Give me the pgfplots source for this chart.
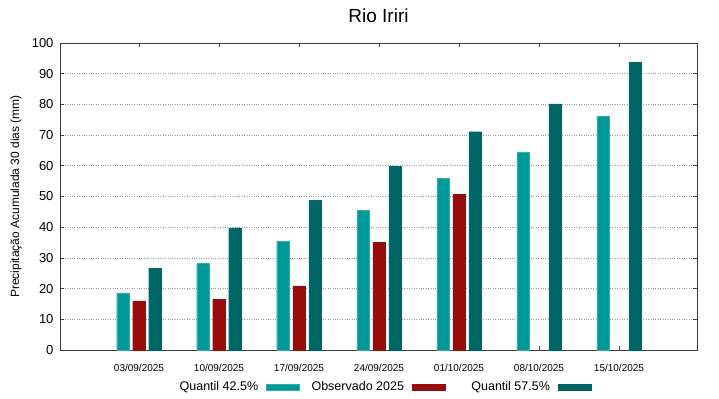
\documentclass[border=0pt]{standalone}
\usepackage{pgfplots}
\pgfplotsset{compat=1.18}
\usepackage{fontspec}
\setmainfont{Liberation Sans}
\definecolor{qlo}{RGB}{0,153,153}
\definecolor{obs}{RGB}{153,12,12}
\definecolor{qhi}{RGB}{0,102,102}
\definecolor{axc}{RGB}{60,60,60}
\begin{document}
\begin{tikzpicture}
\begin{axis}[
  scale only axis,
  width=637bp, height=307bp,
  ybar=3.5bp, bar width=12.5bp,
  xmin=-0.9875, xmax=6.975,
  ymin=0, ymax=100,
  xtick={0,1,2,3,4,5,6},
  xticklabels={03/09/2025,10/09/2025,17/09/2025,24/09/2025,01/10/2025,08/10/2025,15/10/2025},
  ytick={0,10,...,100},
  tick align=inside,
  xtick pos=both, ytick pos=both,
  xticklabel pos=bottom, yticklabel pos=left,
  major tick length=4bp,
  /pgf/number format/assume math mode=true,
  x tick label style={font=\fontsize{10bp}{12bp}\selectfont, yshift=-11bp},
  y tick label style={font=\fontsize{13bp}{15bp}\selectfont, xshift=-3bp},
  ymajorgrids,
  grid style={dotted, gray!80, line width=0.6pt},
  axis line style={axc, line width=0.8pt},
  tick style={axc, line width=0.8pt},
  title={Rio Iriri},
  title style={font=\fontsize{19bp}{22bp}\selectfont, at={(axis description cs:0.5,1)}, anchor=base, yshift=15bp},
  ylabel={Precipitação Acumulada 30 dias (mm)},
  ylabel style={font=\fontsize{12bp}{14bp}\selectfont, at={(axis description cs:-0.0691,0.5)}, anchor=center},
  legend style={at={(axis description cs:0.5094,-0.1205)}, anchor=center, draw=none, fill=none,
    legend columns=3, font=\fontsize{12.5bp}{14bp}\selectfont,
    /tikz/every even column/.append style={column sep=10bp}},
  legend plot pos=right,
  legend image code/.code={\path (0bp,0bp); \fill[#1] (6bp,-3.2bp) rectangle (39bp,3.2bp);},
]
\addplot[fill=qlo, draw=qlo!80!white] coordinates {(0,18.6) (1,28.2) (2,35.5) (3,45.4) (4,56.0) (5,64.5) (6,76.2)};
\addlegendentry{Quantil 42.5\%}
\addplot[fill=obs, draw=obs] coordinates {(0,16.0) (1,16.5) (2,20.9) (3,35.1) (4,50.8)};
\addlegendentry{Observado 2025}
\addplot[fill=qhi, draw=qhi] coordinates {(0,26.6) (1,39.8) (2,48.8) (3,59.9) (4,71.1) (5,80.2) (6,93.7)};
\addlegendentry{\hspace{14bp}Quantil 57.5\%}
\end{axis}
\pgfresetboundingbox
\useasboundingbox (current axis.south west) ++(-60bp,-49bp) rectangle ++(719bp,399bp);
\end{tikzpicture}
\end{document}
